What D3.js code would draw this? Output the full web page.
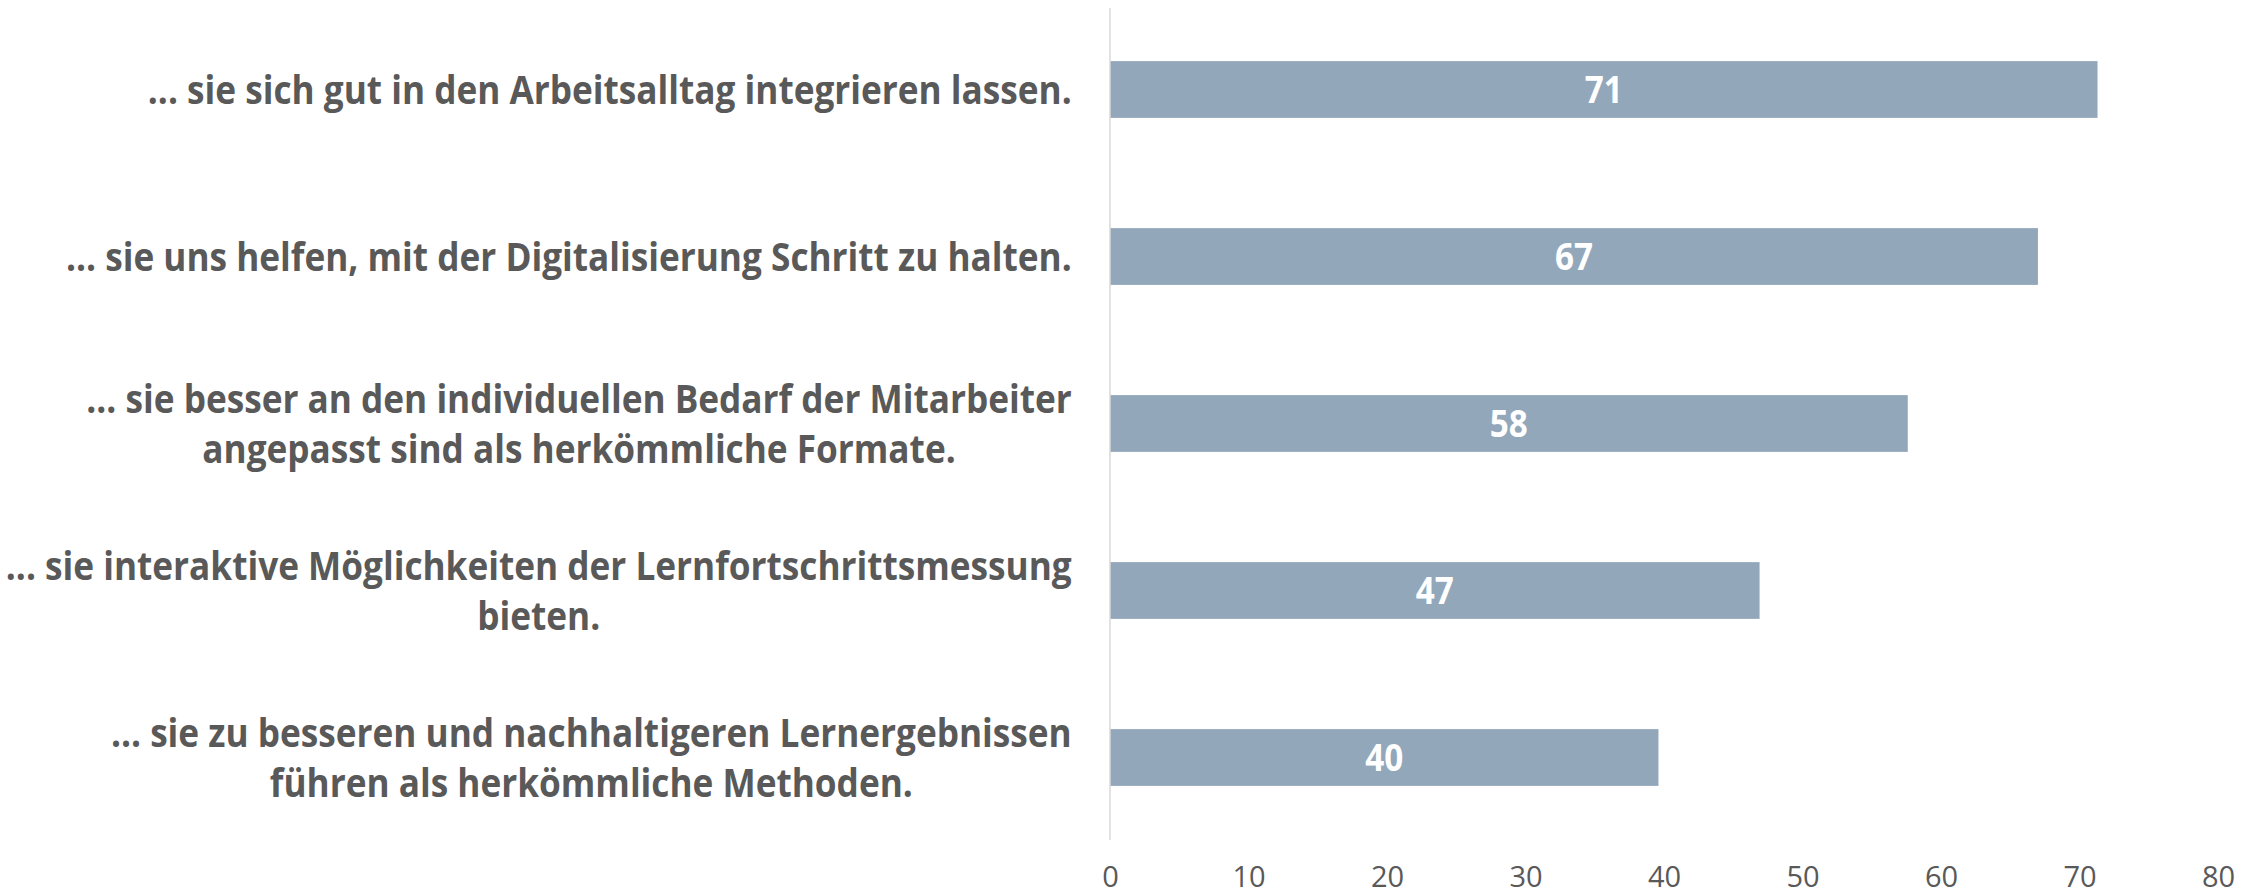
<!DOCTYPE html>
<meta charset="utf-8">
<style>
    body { margin: 0; background: #fff; }
    .cat text { font-family: "Open Sans", sans-serif; font-weight: 700; font-size: 40px; fill: #595959; }
    .val { font-family: "Open Sans", sans-serif; font-weight: 700; font-size: 37px; fill: #fff; }
    .tick text { font-family: "Open Sans", sans-serif; font-size: 29px; fill: #595959; }
</style>
<svg width="2260" height="896"></svg>
<script src="https://cdn.jsdelivr.net/npm/d3@7"></script>
<script>
    // category labels, one entry per line of the wrapped label
    var categories = [
        ["... sie sich gut in den Arbeitsalltag integrieren lassen."],
        ["... sie uns helfen, mit der Digitalisierung Schritt zu halten."],
        ["... sie besser an den individuellen Bedarf der Mitarbeiter", "angepasst sind als herkömmliche Formate."],
        ["... sie interaktive Möglichkeiten der Lernfortschrittsmessung", "bieten."],
        ["... sie zu besseren und nachhaltigeren Lernergebnissen", "führen als herkömmliche Methoden."]
    ];
    var values = [71.3, 67.0, 57.6, 46.9, 39.6];
    var xTicks = [0, 10, 20, 30, 40, 50, 60, 70, 80];

    var svg = d3.select("svg");
    var axisX = 1110,
        catSx = 0.88,   // horizontal squeeze of the bold labels
        valSx = 0.9,
        lineH = 50;

    var x = d3.scaleLinear().domain([0, 80]).range([axisX, 2218]);
    var y = d3.scaleBand()
        .domain(d3.range(values.length))
        .range([6, 841])
        .paddingInner(0.66)
        .paddingOuter(0.33);

    // bars
    svg.append("g").selectAll("rect")
        .data(values)
        .enter().append("rect")
        .attr("x", x(0))
        .attr("y", function(d, i) { return y(i); })
        .attr("width", function(d) { return x(d) - x(0); })
        .attr("height", y.bandwidth())
        .attr("fill", "#93a7bb");

    // vertical axis line
    svg.append("line")
        .attr("x1", axisX).attr("x2", axisX)
        .attr("y1", 8).attr("y2", 840)
        .attr("stroke", "#d9d9d9")
        .attr("stroke-width", 1.5);

    // value labels
    svg.append("g").selectAll("text")
        .data(values)
        .enter().append("text")
        .attr("class", "val")
        .attr("text-anchor", "middle")
        .attr("transform", function(d, i) {
            var cx = (x(0) + x(d)) / 2,
                cy = y(i) + y.bandwidth() / 2 + 13;
            return "translate(" + cx + "," + cy + ") scale(" + valSx + ",1)";
        })
        .text(function(d) { return d3.format(".0f")(d); });

    // x axis tick labels
    var xAxis = d3.axisBottom(x)
        .tickValues(xTicks)
        .tickSize(0)
        .tickPadding(0);
    var ax = svg.append("g")
        .attr("transform", "translate(0,887)")
        .call(xAxis);
    ax.select(".domain").remove();
    ax.selectAll(".tick text").attr("dy", 0).attr("font-family", null).attr("font-size", null);

    // category labels: block right-aligned next to the axis, lines centred inside it
    var blockRight = axisX - 38;
    var cat = svg.append("g").attr("class", "cat");
    categories.forEach(function(lines, i) {
        var cy = y(i) + y.bandwidth() / 2;
        var g = cat.append("g");
        var t = g.selectAll("text")
            .data(lines)
            .enter().append("text")
            .attr("text-anchor", "middle")
            .text(function(d) { return d; });
        var maxW = d3.max(t.nodes(), function(n) { return n.getComputedTextLength(); }) * catSx;
        var cx = blockRight - maxW / 2;
        var top = cy - (lines.length - 1) * lineH / 2;
        t.attr("transform", function(d, j) {
            return "translate(" + cx + "," + (top + j * lineH + 14) + ") scale(" + catSx + ",1)";
        });
    });
</script>
